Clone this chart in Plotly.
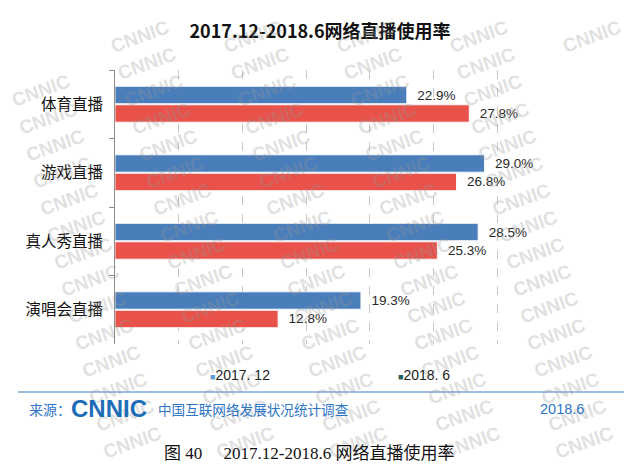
import plotly.graph_objects as go

# ---- data ----
categories = ["体育直播", "游戏直播", "真人秀直播", "演唱会直播"]
series_names = ["2017.12", "2018.6"]
values_2017_12 = [22.9, 29.0, 28.5, 19.3]
values_2018_6 = [27.8, 26.8, 25.3, 12.8]
legend_labels = ["2017. 12", "2018. 6"]

title_text = "2017.12-2018.6网络直播使用率"
caption_text = "图 40　 2017.12-2018.6 网络直播使用率"

# ---- layout geometry (pixels) ----
W, H = 630, 474
L, R, T, B = 115, 69, 70, 130
PW, PH = W - L - R, H - T - B


def px(x):
    return (x - L) / PW


def py(y):
    return (H - B - y) / PH


BLUE = "#4A7EBB"
RED = "#E8524A"
CJK = "Noto Sans CJK SC"

fig = go.Figure()
for name, vals, col in [(series_names[0], values_2017_12, BLUE),
                        (series_names[1], values_2018_6, RED)]:
    fig.add_trace(go.Bar(
        y=categories, x=vals, name=name, orientation="h",
        marker=dict(color=col, line=dict(color="rgba(255,255,255,0.9)", width=1)),
        text=vals, texttemplate="\u00a0\u00a0%{x:.1f}%", textposition="outside",
        textfont=dict(family="Liberation Sans, Arial", size=13.5, color="#2a2a2a"),
        cliponaxis=False, showlegend=False, hoverinfo="skip",
    ))

annotations = []
# watermark (drawn first so the chart text sits on top)
for r in range(-2, 20):
    for cidx in range(-2, 7):
        x0 = 20 + cidx * 113 + r * 7
        y0 = 10 + r * 27
        if 34 < x0 < W - 34 and 10 < y0 < H - 10:
            annotations.append(dict(
                xref="paper", yref="paper", x=px(x0), y=py(y0),
                xanchor="center", yanchor="middle", text="<b>CNNIC</b>",
                showarrow=False, textangle=-20,
                font=dict(family="Liberation Sans, Arial", size=19,
                          color="rgba(150,150,150,0.3)")))

# legend (as text)
leg_cols = ["#5B9BD5", "#1F5F5A"]
leg_x = [208, 396]
for lab, c, lx in zip(legend_labels, leg_cols, leg_x):
    annotations.append(dict(
        xref="paper", yref="paper", x=px(lx), y=py(375), xanchor="left", yanchor="middle",
        text=f"<span style='color:{c};font-size:9px'>■</span>{lab}",
        showarrow=False, font=dict(family="Liberation Sans, Arial", size=14, color="#222222")))

# source line
src_col = "#2E75C6"
annotations.append(dict(xref="paper", yref="paper", x=px(27), y=py(409), xanchor="left",
                        yanchor="middle", text="来源：", showarrow=False,
                        font=dict(family=CJK, size=14, color=src_col)))
annotations.append(dict(xref="paper", yref="paper", x=px(69), y=py(408), xanchor="left",
                        yanchor="middle", text="<b>CNNIC</b>", showarrow=False,
                        font=dict(family="Liberation Sans, Arial", size=24, color="#1E6DB8")))
annotations.append(dict(xref="paper", yref="paper", x=px(156), y=py(409), xanchor="left",
                        yanchor="middle", text="中国互联网络发展状况统计调查", showarrow=False,
                        font=dict(family=CJK, size=13.6, color=src_col)))
annotations.append(dict(xref="paper", yref="paper", x=px(586), y=py(409), xanchor="right",
                        yanchor="middle", text="2018.6", showarrow=False,
                        font=dict(family="Liberation Sans, Arial", size=14.5, color=src_col)))
# caption
annotations.append(dict(xref="paper", yref="paper", x=px(162), y=py(453), xanchor="left",
                        yanchor="middle", text=caption_text, showarrow=False,
                        font=dict(family="Liberation Serif, Noto Sans CJK SC", size=17, color="#111111")))

fig.update_layout(
    width=W, height=H, margin=dict(l=L, r=R, t=T, b=B, autoexpand=False),
    paper_bgcolor="white", plot_bgcolor="white",
    barmode="group", bargap=0.46, bargroupgap=0.06,
    title=dict(text=f"<b>{title_text}</b>", x=320 / W, xanchor="center",
               y=1 - 32 / H, yanchor="middle",
               font=dict(family=CJK, size=18, color="#111111")),
    xaxis=dict(range=[0, 35], dtick=5, showticklabels=False, showgrid=True,
               gridcolor="#c8c8c8", griddash="dash", gridwidth=1,
               zeroline=False, showline=False, ticks=""),
    yaxis=dict(autorange="reversed", showline=True, linecolor="#8c8c8c", linewidth=1,
               ticks="outside", tickson="boundaries", ticklen=5, tickcolor="#8c8c8c",
               ticklabelstandoff=8,
               tickfont=dict(family=CJK, size=15.5, color="#111111")),
    annotations=annotations,
    shapes=[dict(type="line", xref="paper", yref="paper", x0=px(18), x1=px(624),
                 y0=py(392), y1=py(392), line=dict(color="#7BA7DA", width=1.5))],
    showlegend=False,
)

fig.write_html("out.html", config={"displayModeBar": False},
               post_script="document.body.style.margin='0';")
